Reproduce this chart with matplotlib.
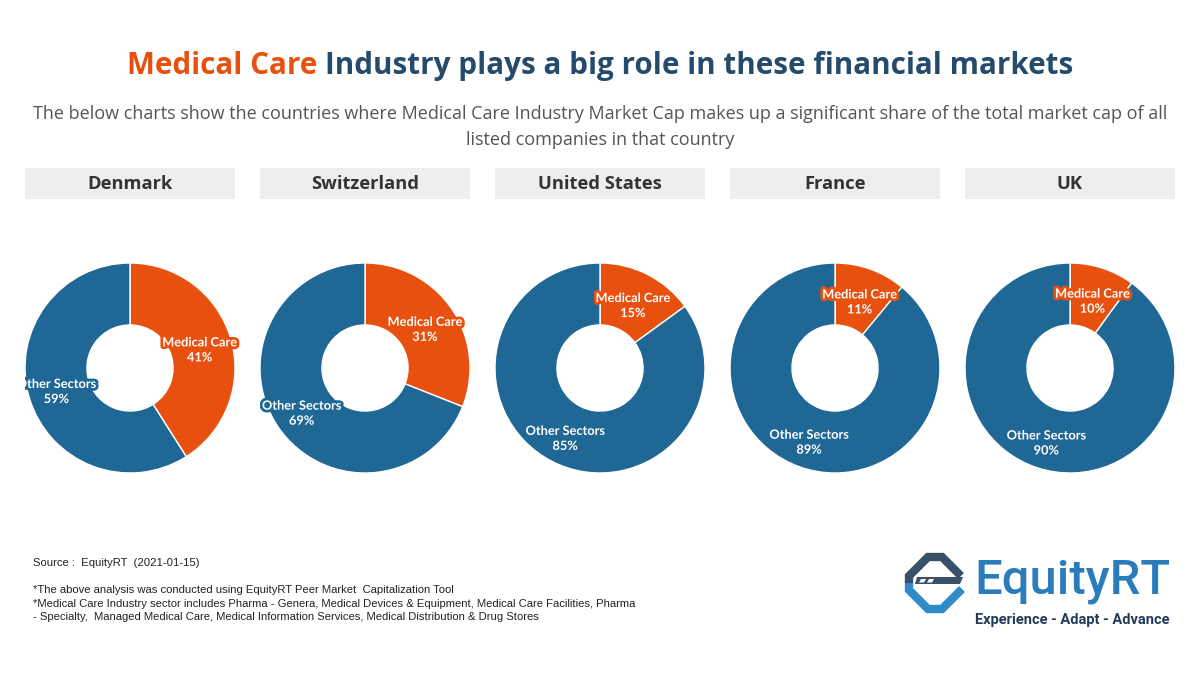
import matplotlib.pyplot as plt
import matplotlib.patheffects as pe
from matplotlib.patches import Rectangle, Polygon
from matplotlib.transforms import Bbox
import numpy as np

countries = ['Denmark', 'Switzerland', 'United States', 'France', 'UK']
medical_care = [41, 31, 15, 11, 10]
other_sectors = [59, 69, 85, 89, 90]
sector_names = ['Medical Care', 'Other Sectors']

title_a = 'Medical Care'
title_b = 'Industry plays a big role in these financial markets'
subtitle_1 = ('The below charts show the countries where Medical Care Industry Market Cap '
              'makes up a significant share of the total market cap of all')
subtitle_2 = 'listed companies in that country'
footer = [
    'Source :  EquityRT  (2021-01-15)',
    '',
    '*The above analysis was conducted using EquityRT Peer Market  Capitalization Tool',
    '*Medical Care Industry sector includes Pharma - Genera, Medical Devices & Equipment, '
    'Medical Care Facilities, Pharma',
    '- Specialty,  Managed Medical Care, Medical Information Services, Medical Distribution & Drug Stores',
]

ORANGE = '#E8500F'
BLUE = '#1F6794'
NAVY = '#244A6C'

fig = plt.figure(figsize=(12, 6.75), dpi=100)
bg = fig.add_axes([0, 0, 1, 1])
bg.set_xlim(0, 1200)
bg.set_ylim(675, 0)
bg.axis('off')
renderer = fig.canvas.get_renderer()


def width_of(t):
    return t.get_window_extent(renderer).width


def fit(t, target):
    # scale font so the text spans the target width in pixels
    for _ in range(3):
        t.set_fontsize(t.get_fontsize() * target / width_of(t))


# title in two colours
ta = bg.text(0, 66, title_a, color=ORANGE, fontsize=24, fontweight='bold',
             family='Open Sans', va='center', ha='left')
tb = bg.text(0, 66, title_b, color=NAVY, fontsize=24, fontweight='bold',
             family='Open Sans', va='center', ha='left')
probe = bg.text(0, 0, title_a + ' ' + title_b, fontsize=24, fontweight='bold', family='Open Sans')
fit(probe, 944)
fs = probe.get_fontsize()
ta.set_fontsize(fs)
tb.set_fontsize(fs)
total = width_of(probe)
probe.remove()
x0 = 600 - total / 2
ta.set_x(x0)
tb.set_x(x0 + total - width_of(tb))

s1 = bg.text(600, 114, subtitle_1, color='#555555', fontsize=13, family='Open Sans',
             ha='center', va='center')
fit(s1, 1136)
bg.text(600, 140, subtitle_2, color='#555555', fontsize=s1.get_fontsize(), family='Open Sans',
        ha='center', va='center')

for i, (country, mc, oth) in enumerate(zip(countries, medical_care, other_sectors)):
    left = 25 + 235 * i
    bg.add_patch(Rectangle((left, 168), 210, 31, facecolor='#EEEEEE', edgecolor='none'))
    bg.text(left + 105, 184, country, color='#333333', fontsize=13.2, fontweight='bold',
            family='Open Sans', ha='center', va='center')

    ax = fig.add_axes([left / 1200, 1 - 473 / 675, 210 / 1200, 210 / 675])
    wedges, _ = ax.pie([mc, oth], colors=[ORANGE, BLUE], startangle=90, counterclock=False,
                       radius=1, wedgeprops=dict(width=0.59, edgecolor='white', linewidth=1))
    ax.set_xlim(-1, 1)
    ax.set_ylim(-1, 1)
    ax.axis('off')
    clip = Bbox.from_extents(left, 0, left + 235, 675)
    for w, name, val, col, dist in zip(wedges, sector_names, [mc, oth], [ORANGE, BLUE], [0.69, 0.73]):
        ang = np.deg2rad((w.theta1 + w.theta2) / 2)
        t = ax.text(dist * np.cos(ang), dist * np.sin(ang) - 0.02, f'{name}\n{val}%', color='white',
                    fontsize=9.2, fontweight='bold', family='Lato', ha='center', va='center',
                    linespacing=1.3,
                    path_effects=[pe.withStroke(linewidth=4, foreground=col)])
        t.set_clip_box(clip)
        t.set_clip_on(True)

footer_y = [563, 577, 590, 604, 617]
for y, line in zip(footer_y, footer):
    if line:
        bg.text(33, y, line, color='#222222', fontsize=8.1, family='Liberation Sans',
                ha='left', va='center')

# logo
dark = [(961, 576), (942, 557), (928, 557), (909, 576), (909, 583)]
light = [(909, 583), (909, 590), (928, 609), (942, 609), (962, 589)]
bg.plot(*zip(*dark), color='#3A5068', lw=6, solid_capstyle='butt', solid_joinstyle='miter')
bg.plot(*zip(*light), color='#2E8BC9', lw=6, solid_capstyle='butt', solid_joinstyle='miter')
bg.add_patch(Polygon([(917, 577), (963, 577), (960, 584), (915, 584)], facecolor='#3A5068',
                     edgecolor='none'))
for dx in [919, 927]:
    bg.add_patch(Polygon([(dx + 2, 579), (dx + 7, 579), (dx + 5, 582.5), (dx, 582.5)],
                         facecolor='white', edgecolor='none'))
logo = bg.text(974, 581, 'EquityRT', color='#2B7CBA', fontsize=30, family='Roboto',
               fontweight='medium', ha='left', va='center')
fit(logo, 196)
tag = bg.text(975, 620, 'Experience - Adapt - Advance', color='#233B59', fontsize=9.5,
              fontweight='bold', family='Roboto', ha='left', va='center')
fit(tag, 194)

fig.savefig('out.png', dpi=100, facecolor='white')
